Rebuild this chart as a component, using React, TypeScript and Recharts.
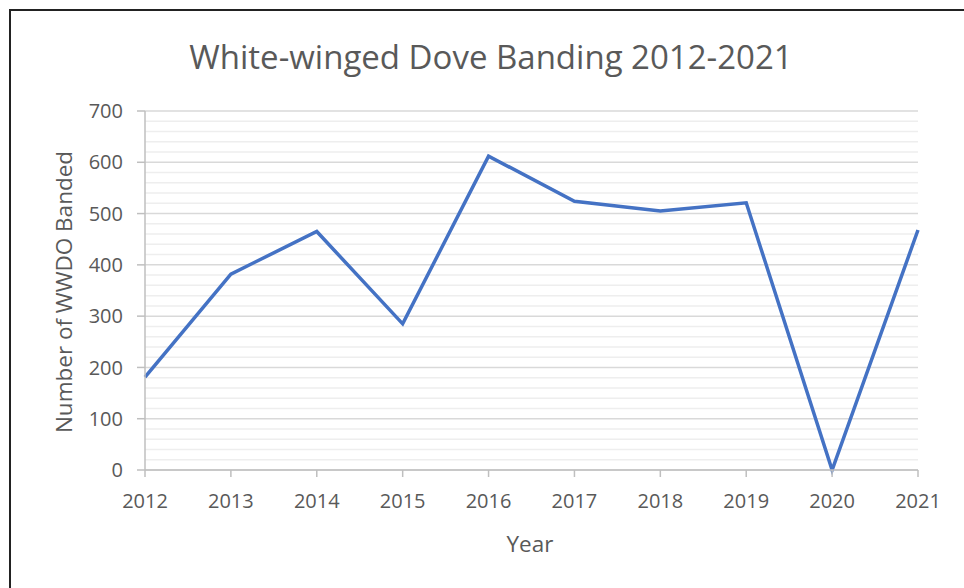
import { CartesianGrid, Line, LineChart, ReferenceLine, XAxis, YAxis } from 'recharts';

// White-winged Dove banding totals per year
const years = ['2012', '2013', '2014', '2015', '2016', '2017', '2018', '2019', '2020', '2021'];
const banded = [181, 382, 465, 285, 612, 524, 505, 521, 0, 468];
const yTicks = [0, 100, 200, 300, 400, 500, 600, 700];
// light minor gridlines between the labelled ticks
const minorTicks = [
  20, 40, 60, 80, 120, 140, 160, 180, 220, 240, 260, 280, 320, 340, 360, 380, 420, 440, 460, 480,
  520, 540, 560, 580, 620, 640, 660, 680,
];

const data = years.map((year, i) => ({ year, banded: banded[i] }));

const FONT = '"Open Sans", sans-serif';
const TEXT = '#595959';
const AXIS = '#bfbfbf';

export default function App() {
  return (
    <div
      style={{
        position: 'absolute',
        left: 0,
        top: 0,
        width: 964,
        height: 588,
        background: '#fff',
        fontFamily: FONT,
        overflow: 'hidden',
      }}
    >
      <div
        style={{
          position: 'absolute',
          left: 9,
          top: 9,
          right: -4,
          bottom: -4,
          borderTop: '2px solid #222',
          borderLeft: '2px solid #222',
        }}
      />
      <div
        style={{
          position: 'absolute',
          left: 0,
          width: 982,
          top: 36,
          textAlign: 'center',
          fontSize: 33,
          color: TEXT,
          lineHeight: '42px',
        }}
      >
        White-winged Dove Banding 2012-2021
      </div>
      <div
        style={{
          position: 'absolute',
          left: 63,
          top: 292,
          transform: 'translate(-50%, -50%) rotate(-90deg)',
          whiteSpace: 'nowrap',
          fontSize: 22.5,
          color: TEXT,
        }}
      >
        Number of WWDO Banded
      </div>
      <div
        style={{
          position: 'absolute',
          left: 530,
          top: 543,
          transform: 'translate(-50%, -50%)',
          fontSize: 22.5,
          color: TEXT,
        }}
      >
        Year
      </div>
      <LineChart
        width={964}
        height={588}
        data={data}
        margin={{ top: 111, right: 46, bottom: 78, left: 55 }}
        style={{ position: 'absolute', left: 0, top: 0 }}
      >
        <CartesianGrid vertical={false} stroke="#d9d9d9" strokeWidth={1.5} />
        {minorTicks.map((v) => (
          <ReferenceLine key={v} y={v} stroke="#eeeeee" strokeWidth={1.5} />
        ))}
        <XAxis
          dataKey="year"
          height={40}
          stroke={AXIS}
          strokeWidth={1.5}
          tickSize={7}
          tickMargin={17}
          tick={{ fontSize: 20, fill: TEXT, fontFamily: FONT }}
          interval={0}
        />
        <YAxis
          width={90}
          domain={[0, 700]}
          ticks={yTicks}
          stroke={AXIS}
          strokeWidth={1.5}
          tickSize={8}
          tickMargin={14}
          tick={{ fontSize: 20, fill: TEXT, fontFamily: FONT }}
        />
        <Line
          type="linear"
          dataKey="banded"
          stroke="#4472c4"
          strokeWidth={3.5}
          dot={false}
          isAnimationActive={false}
        />
      </LineChart>
    </div>
  );
}
